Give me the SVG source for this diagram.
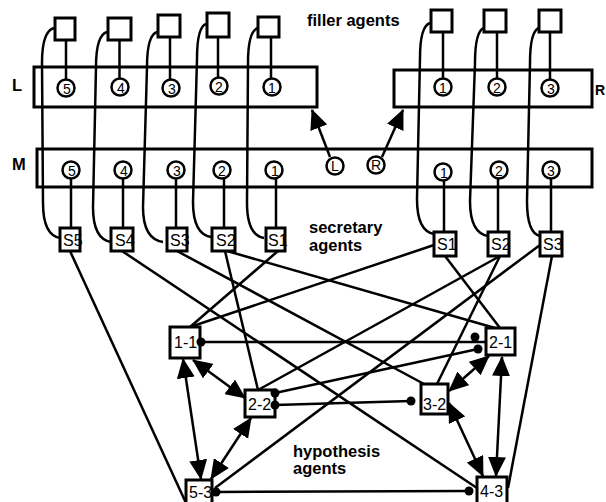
<svg xmlns="http://www.w3.org/2000/svg" width="606" height="502" viewBox="0 0 606 502">
  <style>
    .frame { fill: none; stroke: #000; stroke-width: 3; }
    .box { fill: #fff; stroke: #000; stroke-width: 3; }
    .port { fill: #fff; stroke: #000; stroke-width: 2.5; }
    .ln { fill: none; stroke: #000; stroke-width: 2.5; }
    .dot { fill: #000; }
    .num { font-family: "Liberation Sans", Arial, sans-serif; font-size: 14px; text-anchor: middle; fill: #000; }
    .sec { font-family: "Liberation Sans", Arial, sans-serif; font-size: 16px; fill: #000; }
    .hyp { font-family: "Liberation Sans", Arial, sans-serif; font-size: 16px; fill: #000; }
    .lbl { font-family: "Liberation Sans", Arial, sans-serif; font-size: 16.5px; font-weight: bold; fill: #000; }
  </style>
  <defs>
    <marker id="head" viewBox="0 0 20 18" refX="19" refY="9" markerWidth="20" markerHeight="18" markerUnits="userSpaceOnUse" orient="auto-start-reverse">
      <path d="M0,0 L20,9 L0,18 z" fill="#000"/>
    </marker>
  </defs>
  <rect width="606" height="502" fill="#fff"/>

  <!-- role frames -->
  <g id="frame-L">
    <rect class="frame" x="34" y="67" width="283" height="40"/>
    <text class="lbl" x="12" y="91">L</text>
  </g>
  <g id="frame-R">
    <rect class="frame" x="394" y="70" width="198" height="37"/>
    <text class="lbl" x="595" y="95" style="font-size:14px">R</text>
  </g>
  <g id="frame-M">
    <rect class="frame" x="37" y="149" width="555" height="38"/>
    <text class="lbl" x="12" y="170">M</text>
  </g>

  <!-- long links from filler agents to secretary agents -->
  <g id="links">
    <path class="ln" d="M54,28 Q42,31 42,63 L43,203 Q43,235 60,238"/>
    <path class="ln" d="M107,32 Q96,35 96,67 L93,207 Q93,239 111,242"/>
    <path class="ln" d="M157,32 Q147,35 147,67 L143,207 Q143,239 163,242"/>
    <path class="ln" d="M206,24 Q197,27 197,59 L193,202 Q193,234 211,237"/>
    <path class="ln" d="M258,28 Q248,31 248,63 L247,203 Q247,235 264,238"/>
    <path class="ln" d="M430,23 Q420,26 420,58 L417,199 Q417,231 434,234"/>
    <path class="ln" d="M484,28 Q475,31 475,63 L470,201 Q470,233 488,236"/>
    <path class="ln" d="M539,28 Q530,31 530,63 L527,201 Q527,233 540,236"/>

    <!-- filler box to L/R slot -->
    <line class="ln" x1="66" y1="40" x2="66" y2="80"/>
    <line class="ln" x1="119.5" y1="40" x2="119.5" y2="79"/>
    <line class="ln" x1="170" y1="37" x2="170" y2="80"/>
    <line class="ln" x1="218" y1="37" x2="218" y2="78"/>
    <line class="ln" x1="271" y1="37" x2="271" y2="79"/>
    <line class="ln" x1="443" y1="32" x2="443" y2="79"/>
    <line class="ln" x1="497" y1="32" x2="497" y2="79"/>
    <line class="ln" x1="550" y1="32" x2="550" y2="80"/>

    <!-- M slot to secretary box -->
    <line class="ln" x1="71" y1="178" x2="71" y2="228"/>
    <line class="ln" x1="123" y1="178" x2="123" y2="228"/>
    <line class="ln" x1="176" y1="178" x2="176" y2="228"/>
    <line class="ln" x1="224" y1="178" x2="224" y2="228"/>
    <line class="ln" x1="276" y1="178" x2="276" y2="228"/>
    <line class="ln" x1="444" y1="180" x2="444" y2="232"/>
    <line class="ln" x1="498" y1="178" x2="498" y2="232"/>
    <line class="ln" x1="551" y1="178" x2="551" y2="232"/>

    <!-- L and R slots of M point at their frames -->
    <line class="ln" x1="330" y1="157" x2="312" y2="110" marker-end="url(#head)"/>
    <line class="ln" x1="382" y1="157" x2="403" y2="110" marker-end="url(#head)"/>
  </g>

  <!-- slots -->
  <g id="slots-L">
    <circle class="port" cx="66" cy="88" r="8.5"/><text class="num" x="67" y="94">5</text>
    <circle class="port" cx="120" cy="87" r="8.5"/><text class="num" x="121" y="93">4</text>
    <circle class="port" cx="171" cy="88" r="8.5"/><text class="num" x="172" y="94">3</text>
    <circle class="port" cx="219" cy="86" r="8.5"/><text class="num" x="219" y="92">2</text>
    <circle class="port" cx="272" cy="87" r="8.5"/><text class="num" x="272" y="93">1</text>
  </g>
  <g id="slots-R">
    <circle class="port" cx="443" cy="87" r="8.5"/><text class="num" x="443" y="93">1</text>
    <circle class="port" cx="497" cy="87" r="8.5"/><text class="num" x="497" y="93">2</text>
    <circle class="port" cx="550" cy="88" r="8.5"/><text class="num" x="551" y="94">3</text>
  </g>
  <g id="slots-M">
    <circle class="port" cx="71" cy="170" r="8.5"/><text class="num" x="72" y="176">5</text>
    <circle class="port" cx="123" cy="170" r="8.5"/><text class="num" x="124" y="176">4</text>
    <circle class="port" cx="176" cy="170" r="8.5"/><text class="num" x="177" y="176">3</text>
    <circle class="port" cx="222" cy="170" r="8.5"/><text class="num" x="222" y="176">2</text>
    <circle class="port" cx="274" cy="170" r="8.5"/><text class="num" x="275" y="176">1</text>
    <circle class="port" cx="335" cy="166" r="8.5"/><text class="num" x="335" y="171">L</text>
    <circle class="port" cx="376" cy="165" r="8.5"/><text class="num" x="376" y="170">R</text>
    <circle class="port" cx="443" cy="172" r="8.5"/><text class="num" x="444" y="178">1</text>
    <circle class="port" cx="499" cy="170" r="8.5"/><text class="num" x="499" y="176">2</text>
    <circle class="port" cx="551" cy="170" r="8.5"/><text class="num" x="551" y="176">3</text>
  </g>

  <!-- filler agents -->
  <g id="filler-L5"><rect class="box" x="55" y="18" width="20" height="22"/></g>
  <g id="filler-L4"><rect class="box" x="108" y="18" width="23" height="22"/></g>
  <g id="filler-L3"><rect class="box" x="158" y="15" width="22" height="22"/></g>
  <g id="filler-L2"><rect class="box" x="207" y="13" width="22" height="24"/></g>
  <g id="filler-L1"><rect class="box" x="258" y="17" width="21" height="20"/></g>
  <g id="filler-R1"><rect class="box" x="431" y="10" width="21" height="22"/></g>
  <g id="filler-R2"><rect class="box" x="484" y="10" width="22" height="22"/></g>
  <g id="filler-R3"><rect class="box" x="539" y="10" width="22" height="22"/></g>
  <text class="lbl" x="307" y="26">filler agents</text>

  <!-- connectors: secretary agents to hypothesis agents, hypothesis to hypothesis -->
  <g id="connectors">
    <line class="ln" x1="70" y1="251" x2="186" y2="503"/>
    <line class="ln" x1="122" y1="251" x2="477" y2="488"/>
    <line class="ln" x1="177" y1="251" x2="424" y2="384"/>
    <line class="ln" x1="225" y1="251" x2="258" y2="390"/>
    <line class="ln" x1="227" y1="251" x2="495" y2="328"/>
    <line class="ln" x1="278" y1="251" x2="190" y2="327"/>
    <line class="ln" x1="434" y1="245" x2="190" y2="327"/>
    <line class="ln" x1="445" y1="256" x2="500" y2="328"/>
    <line class="ln" x1="500" y1="256" x2="258" y2="390"/>
    <line class="ln" x1="500" y1="256" x2="437" y2="384"/>
    <line class="ln" x1="540" y1="245" x2="215" y2="488"/>
    <line class="ln" x1="552" y1="256" x2="508" y2="488"/>

    <line class="ln" x1="201" y1="342" x2="486" y2="342"/>
    <line class="ln" x1="275" y1="393" x2="478" y2="349"/>
    <line class="ln" x1="275" y1="405" x2="411" y2="401"/>
    <line class="ln" x1="216" y1="492" x2="469" y2="491"/>

    <line class="ln" x1="183" y1="359" x2="201" y2="479" marker-start="url(#head)" marker-end="url(#head)"/>
    <line class="ln" x1="193" y1="360" x2="245" y2="398" marker-start="url(#head)" marker-end="url(#head)"/>
    <line class="ln" x1="251" y1="418" x2="211" y2="479" marker-start="url(#head)" marker-end="url(#head)"/>
    <line class="ln" x1="489" y1="356" x2="449" y2="391" marker-start="url(#head)" marker-end="url(#head)"/>
    <line class="ln" x1="502" y1="357" x2="496" y2="476" marker-start="url(#head)" marker-end="url(#head)"/>
    <line class="ln" x1="449" y1="403" x2="483" y2="476" marker-start="url(#head)" marker-end="url(#head)"/>
  </g>

  <!-- secretary agents -->
  <g id="sec-L5"><rect class="box" x="60" y="228" width="20" height="23"/><text class="sec" x="63" y="246">S5</text></g>
  <g id="sec-L4"><rect class="box" x="111" y="228" width="22" height="23"/><text class="sec" x="115" y="246">S4</text></g>
  <g id="sec-L3"><rect class="box" x="167" y="228" width="20" height="23"/><text class="sec" x="170" y="246">S3</text></g>
  <g id="sec-L2"><rect class="box" x="212" y="228" width="23" height="23"/><text class="sec" x="216" y="246">S2</text></g>
  <g id="sec-L1"><rect class="box" x="266" y="228" width="19" height="23"/><text class="sec" x="268" y="246">S1</text></g>
  <g id="sec-R1"><rect class="box" x="434" y="232" width="22" height="24"/><text class="sec" x="437" y="250">S1</text></g>
  <g id="sec-R2"><rect class="box" x="488" y="232" width="21" height="24"/><text class="sec" x="491" y="250">S2</text></g>
  <g id="sec-R3"><rect class="box" x="540" y="232" width="22" height="24"/><text class="sec" x="543" y="250">S3</text></g>
  <text class="lbl" x="309" y="233">secretary</text>
  <text class="lbl" x="309" y="251">agents</text>

  <!-- hypothesis agents -->
  <g id="hyp-1-1"><rect class="box" x="170" y="327" width="30" height="31"/><text class="hyp" x="174" y="348">1-1</text><circle class="dot" cx="201" cy="342" r="4.5"/></g>
  <g id="hyp-2-2"><rect class="box" x="245" y="390" width="30" height="27"/><text class="hyp" x="248" y="410">2-2</text><circle class="dot" cx="275" cy="393" r="4.5"/><circle class="dot" cx="275" cy="405" r="4.5"/></g>
  <g id="hyp-5-3"><rect class="box" x="186" y="480" width="26" height="30"/><text class="hyp" x="189" y="498">5-3</text><circle class="dot" cx="216" cy="492" r="4.5"/></g>
  <g id="hyp-2-1"><rect class="box" x="486" y="328" width="29" height="27"/><text class="hyp" x="489" y="348">2-1</text><circle class="dot" cx="475" cy="337" r="4.5"/><circle class="dot" cx="478" cy="349" r="4.5"/></g>
  <g id="hyp-3-2"><rect class="box" x="421" y="384" width="27" height="30"/><text class="hyp" x="423" y="410">3-2</text><circle class="dot" cx="411" cy="401" r="4.5"/></g>
  <g id="hyp-4-3"><rect class="box" x="477" y="477" width="30" height="30"/><text class="hyp" x="480" y="497">4-3</text><circle class="dot" cx="469" cy="491" r="4.5"/></g>
  <text class="lbl" x="293" y="457">hypothesis</text>
  <text class="lbl" x="293" y="474">agents</text>
</svg>
